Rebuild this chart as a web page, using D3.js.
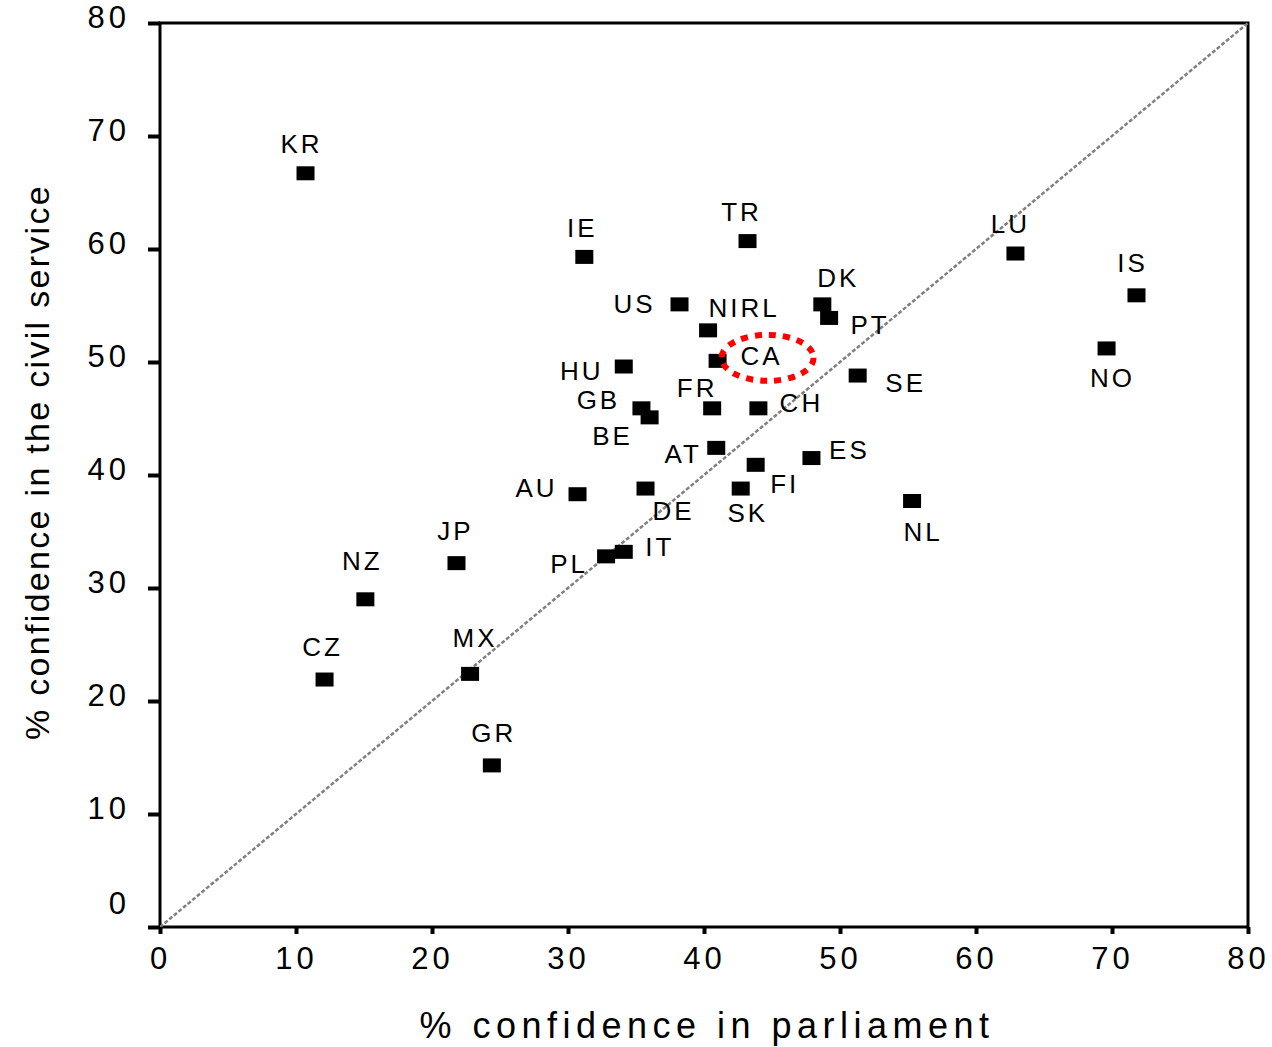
<!DOCTYPE html>
<html>
<head>
<meta charset="utf-8">
<script src="https://cdn.jsdelivr.net/npm/d3@7"></script>
<style>
  body { margin: 0; background: #fff; }
  text { font-family: "Liberation Sans", Arial, sans-serif; fill: #000; }
</style>
</head>
<body>
<svg width="1272" height="1047"></svg>
<script>
// country codes and values (% confidence)
var countries = ['KR','IE','TR','US','NIRL','DK','PT','CA','HU','GB','BE','FR','CH','SE','AT','FI','ES',
                 'AU','DE','SK','NL','LU','IS','NO','JP','NZ','PL','IT','CZ','MX','GR'];
var parliament = [10.7,31.2,43.2,38.2,40.3,48.7,49.2,41.0,34.1,35.4,36.0,40.6,44.0,51.3,40.9,43.8,47.9,
                  30.7,35.7,42.7,55.3,62.9,71.8,69.6,21.8,15.1,32.8,34.1,12.1,22.8,24.4];
var civilService = [66.7,59.3,60.7,55.1,52.8,55.1,53.9,50.1,49.6,45.9,45.1,45.9,45.9,48.8,42.4,40.9,41.5,
                    38.3,38.8,38.8,37.7,59.6,55.9,51.2,32.2,29.0,32.8,33.2,21.9,22.4,14.3];
var tickValues = [0,10,20,30,40,50,60,70,80];
var highlight = 'CA';

// label offsets from the marker centre (px)
var labelOffsets = {
  KR:[-4,-29], IE:[-2,-29], TR:[-6,-29], US:[-45,0], NIRL:[36,-22], DK:[16,-26], PT:[41,7],
  CA:[44,-5], HU:[-42,4], GB:[-43,-8], BE:[-37,19], FR:[-15,-20], CH:[43,-5], SE:[48,7],
  AT:[-33,6], FI:[29,19], ES:[38,-8], AU:[-41,-6], DE:[28,22], SK:[7,24], NL:[11,31],
  LU:[-5,-30], IS:[-4,-32], NO:[6,30], JP:[-1,-32], NZ:[-3,-38], PL:[-37,8], IT:[36,-5],
  CZ:[-2,-33], MX:[5,-36], GR:[2,-32]
};

var data = countries.map(function(c, i){
  return {code: c, x: parliament[i], y: civilService[i]};
});

var svg = d3.select('svg');
var plotLeft = 160, plotTop = 23, plotRight = 1248, plotBottom = 927;

var scaleX = d3.scaleLinear().domain([0,80]).range([plotLeft, plotRight]);
var scaleY = d3.scaleLinear().domain([0,80]).range([plotBottom, plotTop]);

// frame
svg.append('rect')
    .attr('x', plotLeft).attr('y', plotTop)
    .attr('width', plotRight - plotLeft).attr('height', plotBottom - plotTop)
    .attr('fill', 'none').attr('stroke', '#000').attr('stroke-width', 3);

// diagonal reference line
svg.append('line')
    .attr('x1', scaleX(0)).attr('y1', scaleY(0))
    .attr('x2', scaleX(80)).attr('y2', scaleY(80))
    .attr('stroke', '#808080').attr('stroke-width', 2.5)
    .attr('stroke-dasharray', '4,2');

// axes
var yAxis = svg.append('g')
    .attr('transform', 'translate(' + plotLeft + ',0)')
    .call(d3.axisLeft(scaleY).tickValues(tickValues).tickSize(12).tickPadding(18));
var xAxis = svg.append('g')
    .attr('transform', 'translate(0,' + plotBottom + ')')
    .call(d3.axisBottom(scaleX).tickValues(tickValues).tickSize(7).tickPadding(10));

[xAxis, yAxis].forEach(function(ax){
  ax.select('.domain').remove();
  ax.selectAll('.tick line').attr('stroke', '#000').attr('stroke-width', 4);
  ax.selectAll('.tick text')
      .attr('font-size', 31)
      .attr('letter-spacing', '4px')
      .attr('font-family', '"Liberation Sans", Arial, sans-serif')
      .attr('fill', '#000');
});
yAxis.selectAll('.tick text')
    .attr('dy', function(d){ return d === 0 ? '-0.45em' : '0.15em'; });
xAxis.selectAll('.tick text').attr('dy', '0.8em');

// markers
svg.selectAll('rect.pt')
    .data(data)
    .enter()
    .append('rect')
    .attr('class', 'pt')
    .attr('x', function(d){ return scaleX(d.x) - 9; })
    .attr('y', function(d){ return scaleY(d.y) - 7; })
    .attr('width', 18)
    .attr('height', 14)
    .attr('fill', '#000');

// labels
svg.selectAll('text.lbl')
    .data(data)
    .enter()
    .append('text')
    .attr('class', 'lbl')
    .attr('x', function(d){ return scaleX(d.x) + labelOffsets[d.code][0]; })
    .attr('y', function(d){ return scaleY(d.y) + labelOffsets[d.code][1]; })
    .attr('text-anchor', 'middle')
    .attr('dominant-baseline', 'central')
    .attr('font-size', 26)
    .attr('letter-spacing', '3px')
    .text(function(d){ return d.code; });

// red dotted ellipse around the highlighted country
var hl = data.filter(function(d){ return d.code === highlight; })[0];
svg.append('ellipse')
    .attr('cx', scaleX(hl.x) + 50)
    .attr('cy', scaleY(hl.y) - 3)
    .attr('rx', 46)
    .attr('ry', 23)
    .attr('fill', 'none')
    .attr('stroke', '#f00')
    .attr('stroke-width', 6)
    .attr('stroke-dasharray', '7,7');

// axis titles
svg.append('text')
    .attr('x', 707)
    .attr('y', 1025)
    .attr('text-anchor', 'middle')
    .attr('dominant-baseline', 'central')
    .attr('font-size', 36)
    .attr('letter-spacing', '5.5px')
    .text('% confidence in parliament');

svg.append('text')
    .attr('transform', 'translate(37,462) rotate(-90)')
    .attr('text-anchor', 'middle')
    .attr('dominant-baseline', 'central')
    .attr('font-size', 34)
    .attr('letter-spacing', '2.3px')
    .text('% confidence in the civil service');
</script>
</body>
</html>
